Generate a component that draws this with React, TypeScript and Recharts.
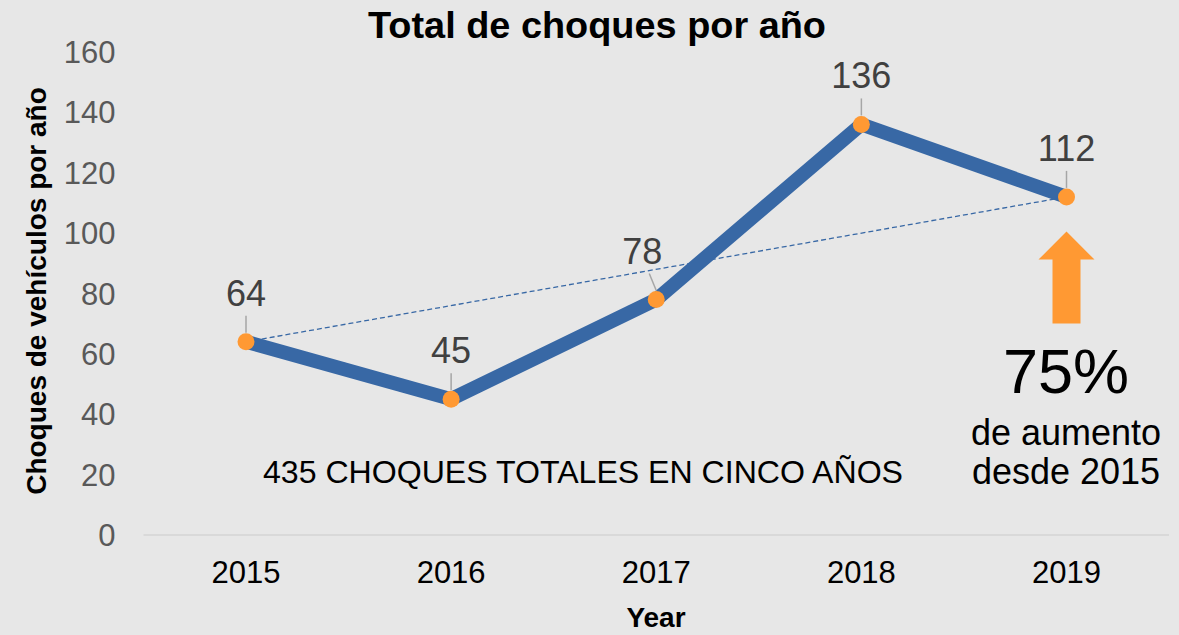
import React from 'react';
import {
  LineChart,
  Line,
  XAxis,
  YAxis,
  LabelList,
  ReferenceDot,
  Customized,
} from 'recharts';

// data
const years = ['2015', '2016', '2017', '2018', '2019'];
const crashes = [64, 45, 78, 136, 112];
const trendEnds = [64, null, null, null, 112];
const yTicks = [0, 20, 40, 60, 80, 100, 120, 140, 160];

const rows = years.map((year, i) => ({ year, crashes: crashes[i], trend: trendEnds[i] }));

const FONT = '"Liberation Sans", Arial, sans-serif';
const BLUE = '#3868a5';
const ORANGE = '#ff9933';

// value label with little leader line, like Excel's data callouts
const PointLabel = (props: any) => {
  const { x, y, value, index } = props;
  const dx = index === 2 ? -14 : 0;
  return (
    <g>
      <line x1={x + dx * 0.5} y1={y - 26} x2={x} y2={y - 9} stroke="#a6a6a6" strokeWidth={1.5} />
      <text
        x={x + dx}
        y={y - 36}
        textAnchor="middle"
        fontSize={36}
        fill="#404040"
        fontFamily={FONT}
      >
        {value}
      </text>
    </g>
  );
};

// up arrow drawn around the reference point
const UpArrow = (props: any) => {
  const { cx, cy } = props;
  const pts = [
    [cx, cy],
    [cx + 28, cy + 28],
    [cx + 14, cy + 28],
    [cx + 14, cy + 92],
    [cx - 14, cy + 92],
    [cx - 14, cy + 28],
    [cx - 28, cy + 28],
  ]
    .map((p) => p.join(','))
    .join(' ');
  return <polygon points={pts} fill={ORANGE} />;
};

const Annotations = () => (
  <g fontFamily={FONT}>
    <text x={597} y={38} textAnchor="middle" fontSize={37} fontWeight="bold" fill="#000" textLength={458} lengthAdjust="spacingAndGlyphs">
      Total de choques por año
    </text>
    <text
      x={36}
      y={291}
      transform="rotate(-90 36 291)"
      textAnchor="middle"
      dominantBaseline="central"
      fontSize={28}
      fontWeight="bold"
      fill="#000"
    >
      Choques de vehículos por año
    </text>
    <text x={656} y={627} textAnchor="middle" fontSize={28} fontWeight="bold" fill="#000">
      Year
    </text>
    <text x={583} y={483} textAnchor="middle" fontSize={32} fill="#000" textLength={640} lengthAdjust="spacingAndGlyphs">
      435 CHOQUES TOTALES EN CINCO AÑOS
    </text>
    <text x={1066} y={393} textAnchor="middle" fontSize={63} fill="#000">
      75%
    </text>
    <text x={1066} y={445} textAnchor="middle" fontSize={36} fill="#000">
      de aumento
    </text>
    <text x={1066} y={484} textAnchor="middle" fontSize={36} fill="#000">
      desde 2015
    </text>
  </g>
);

export default function App() {
  return (
    <div style={{ position: 'absolute', left: 0, top: 0, width: 1179, height: 635, background: '#e7e7e7' }}>
      <LineChart
        width={1179}
        height={635}
        data={rows}
        margin={{ top: 52, right: 10, bottom: 40, left: 0 }}
      >
        <XAxis
          dataKey="year"
          height={60}
          padding={{ left: 102.5, right: 102.5 }}
          tickLine={false}
          axisLine={{ stroke: '#d9d9d9', strokeWidth: 2 }}
          tick={{ fontSize: 31, fill: '#000', fontFamily: FONT }}
          tickMargin={20}
        />
        <YAxis
          width={143.5}
          domain={[0, 160]}
          ticks={yTicks}
          axisLine={false}
          tickLine={false}
          tickSize={0}
          tickMargin={28}
          tick={{ fontSize: 31, fill: '#595959', fontFamily: FONT }}
        />
        <Line
          dataKey="trend"
          connectNulls
          stroke={BLUE}
          strokeWidth={1.3}
          strokeDasharray="5 3"
          dot={false}
          activeDot={false}
          isAnimationActive={false}
        />
        <Line
          dataKey="crashes"
          stroke={BLUE}
          strokeWidth={14}
          strokeLinejoin="miter"
          dot={{ r: 8.5, fill: ORANGE, stroke: 'none' }}
          activeDot={false}
          isAnimationActive={false}
        >
          <LabelList dataKey="crashes" content={PointLabel} />
        </Line>
        <ReferenceDot x="2019" y={100.5} r={0} ifOverflow="visible" shape={UpArrow} />
        <Customized component={Annotations} />
      </LineChart>
    </div>
  );
}
